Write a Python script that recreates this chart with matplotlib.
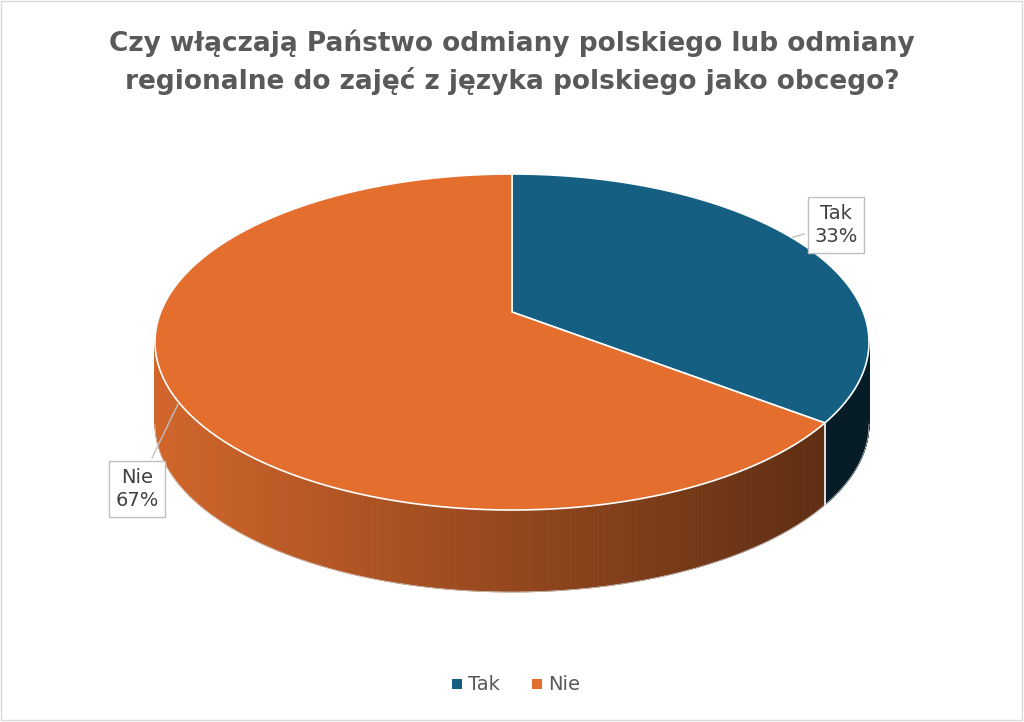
import numpy as np
import matplotlib
matplotlib.use("Agg")
import matplotlib.pyplot as plt
from matplotlib.patches import Polygon, Rectangle
import matplotlib.colors as mc

categories = ["Tak", "Nie"]
values = [33, 67]
colors = ["#156082", "#E46E2E"]
title = "Czy włączają Państwo odmiany polskiego lub odmiany\nregionalne do zajęć z języka polskiego jako obcego?"

W, H = 1024, 722
fig = plt.figure(figsize=(W/100, H/100), dpi=100)
ax = fig.add_axes([0, 0, 1, 1])
ax.set_xlim(0, W); ax.set_ylim(H, 0); ax.axis("off")
ax.add_patch(Rectangle((1, 1), W-3, H-3, fill=False, ec="#d9d9d9", lw=1))

cx, cy, rx, ry, depth = 512, 342, 357, 168, 82
vx, vy = 512, 312  # apparent apex (perspective)

def pt(a, dy=0):
    r = np.deg2rad(a)
    return cx + rx*np.cos(r), cy - ry*np.sin(r) + dy

total = sum(values)
starts, ends = [], []
a = 90.0
for v in values:
    starts.append(a); a -= 360*v/total; ends.append(a)

def side_color(base, x):
    t = (x - (cx-rx)) / (2*rx)
    c = np.array(mc.to_rgb(base))
    light = c*0.92
    dark = c*0.38
    return tuple(np.clip(light*(1-t) + dark*t, 0, 1))

for i, base in enumerate(colors):
    s, e = starts[i], ends[i]
    lo, hi = min(s, e), max(s, e)
    segs = []
    for off in (0, -360):
        l, h = max(lo+off, -180), min(hi+off, 0)
        if l < h: segs.append((l, h))
    for l, h in segs:
        angs = np.linspace(l, h, 200)
        for a0, a1 in zip(angs[:-1], angs[1:]):
            p0, p1 = pt(a0), pt(a1)
            q0, q1 = pt(a0, depth), pt(a1, depth)
            col = side_color(base, (p0[0]+p1[0])/2)
            if base == colors[0]:
                col = tuple(np.array(mc.to_rgb(base))*0.3)
            ax.add_patch(Polygon([p0, p1, q1, q0], closed=True, fc=col, ec=col, lw=0.6))
bx, by = pt(ends[0])
ax.plot([bx, bx], [by, by+depth], color="white", lw=1.2)
ax.plot(*zip(*[pt(a, depth) for a in np.linspace(-180, 0, 200)]), color="#d0d0d0", lw=0.5)

for i in range(len(values)):
    angs = np.linspace(starts[i], ends[i], 300)
    poly = [(vx, vy)] + [pt(a) for a in angs]
    ax.add_patch(Polygon(poly, closed=True, fc=colors[i], ec="white", lw=1.2))

def label(text, xy, anchor):
    ax.annotate(text, xy=anchor, xytext=xy, ha="center", va="center", fontsize=14,
                color="#404040", linespacing=1.3,
                bbox=dict(boxstyle="square,pad=0.35", fc="white", ec="#bfbfbf"),
                arrowprops=dict(arrowstyle="-", color="#bfbfbf", lw=1))
label("Tak\n33%", (836, 225), (790, 238))
label("Nie\n67%", (137, 489), (180, 400))

ax.text(512, 62, title, ha="center", va="center", fontsize=19, fontweight="bold",
        color="#595959", linespacing=1.45)

for j, (c, n) in enumerate(zip(colors, categories)):
    x0 = 452 + j*80
    ax.add_patch(Rectangle((x0, 679), 10, 10, fc=c, ec="none"))
    ax.text(x0+16, 685, n, va="center", ha="left", fontsize=14, color="#595959")

fig.savefig("out.png", dpi=100, facecolor="white")
